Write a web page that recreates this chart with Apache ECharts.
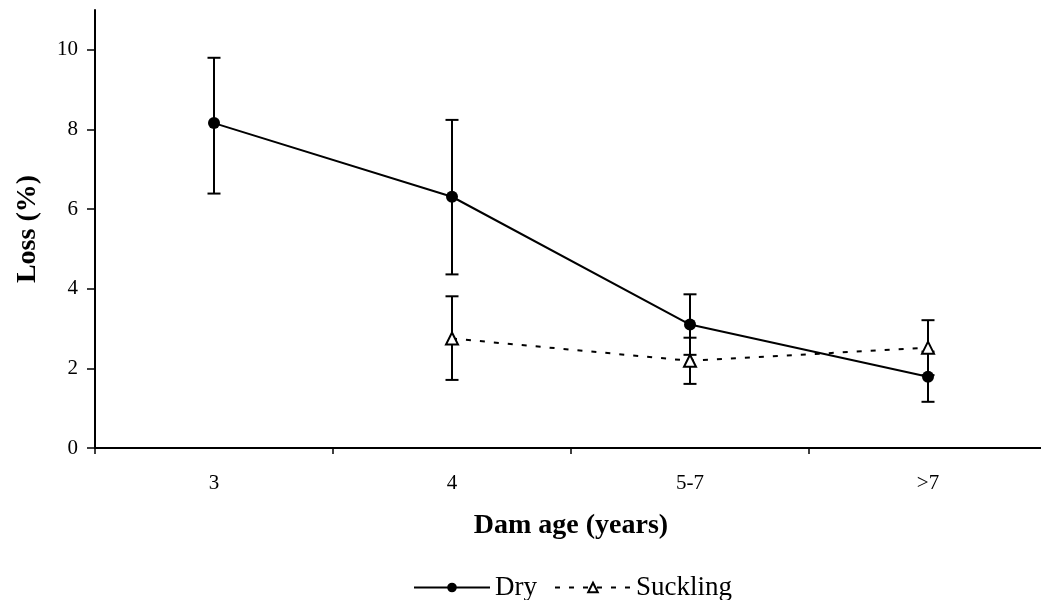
<!DOCTYPE html>
<html>
<head>
<meta charset="utf-8">
<title>Loss by dam age</title>
<script src="https://cdn.jsdelivr.net/npm/echarts@6/dist/echarts.min.js"></script>
<style>
  html, body { margin: 0; padding: 0; background: #fff; overflow: hidden; }
  /* plot runs slightly past the right edge of the window */
  #chart { width: 1047px; height: 600px; }
</style>
</head>
<body>
<div id="chart"></div>
<script>
// Dam age groups
const categories = ['3', '4', '5-7', '>7'];

// Mean loss (%) with lower / upper error limits; null where no value
const dryMean  = [8.16, 6.31, 3.10, 1.79];
const dryLow   = [6.39, 4.36, 2.34, 1.16];
const dryHigh  = [9.80, 8.24, 3.86, 2.42];

const suckMean = [null, 2.75, 2.19, 2.52];
const suckLow  = [null, 1.71, 1.61, 1.83];
const suckHigh = [null, 3.81, 2.77, 3.21];

const yTicks = [0, 2, 4, 6, 8, 10];

const serif = '"Liberation Serif", "DejaVu Serif", serif';

function errorData(low, high) {
  const out = [];
  low.forEach((l, i) => {
    if (l !== null && high[i] !== null) out.push([i, l, high[i]]);
  });
  return out;
}

function renderErrorBar(params, api) {
  const x = api.value(0);
  const lo = api.coord([x, api.value(1)]);
  const hi = api.coord([x, api.value(2)]);
  const half = 6.5;
  const style = { stroke: '#000', lineWidth: 2, fill: null };
  return {
    type: 'group',
    children: [
      { type: 'line', shape: { x1: lo[0], y1: lo[1], x2: hi[0], y2: hi[1] }, style },
      { type: 'line', shape: { x1: hi[0] - half, y1: hi[1], x2: hi[0] + half, y2: hi[1] }, style },
      { type: 'line', shape: { x1: lo[0] - half, y1: lo[1], x2: lo[0] + half, y2: lo[1] }, style }
    ]
  };
}

const chart = echarts.init(document.getElementById('chart'), null, { renderer: 'canvas' });

chart.setOption({
  animation: false,
  backgroundColor: '#fff',
  textStyle: { fontFamily: serif, color: '#000' },
  grid: { left: 95, top: 10, right: 0, height: 438, containLabel: false },
  legend: {
    top: 574,
    left: 413,
    padding: 0,
    itemWidth: 76,
    itemHeight: 12,
    itemGap: 17,
    textStyle: { fontFamily: serif, fontSize: 27, color: '#000' },
    data: ['Dry', 'Suckling']
  },
  xAxis: {
    type: 'category',
    data: categories,
    boundaryGap: true,
    name: 'Dam age (years)',
    nameLocation: 'middle',
    nameGap: 64,
    nameTextStyle: { fontFamily: serif, fontSize: 28, fontWeight: 'bold', color: '#000' },
    axisLine: { lineStyle: { color: '#000', width: 2 } },
    axisTick: { show: true, length: 6, lineStyle: { color: '#000', width: 1.5 } },
    axisLabel: { fontFamily: serif, fontSize: 21, color: '#000', margin: 25 },
    splitLine: { show: false }
  },
  yAxis: {
    type: 'value',
    min: 0,
    max: 11,
    interval: 2,
    name: 'Loss (%)',
    nameLocation: 'middle',
    nameGap: 53,
    nameRotate: 90,
    nameTextStyle: { fontFamily: serif, fontSize: 28, fontWeight: 'bold', color: '#000' },
    axisLine: { show: true, lineStyle: { color: '#000', width: 2 } },
    axisTick: { show: true, length: 8, customValues: yTicks, lineStyle: { color: '#000', width: 1.5 } },
    axisLabel: {
      fontFamily: serif, fontSize: 21, color: '#000', margin: 17,
      customValues: yTicks
    },
    splitLine: { show: false }
  },
  series: [
    {
      name: 'Dry',
      type: 'line',
      data: dryMean,
      symbol: 'circle',
      symbolSize: 12,
      itemStyle: { color: '#000' },
      lineStyle: { color: '#000', width: 2, type: 'solid' },
      z: 4
    },
    {
      name: 'Suckling',
      type: 'line',
      data: suckMean,
      symbol: 'triangle',
      symbolSize: 12,
      connectNulls: false,
      itemStyle: { color: '#fff', borderColor: '#000', borderWidth: 2 },
      lineStyle: { color: '#000', width: 2, type: [5, 9] },
      z: 5
    },
    {
      name: 'DryErr',
      type: 'custom',
      renderItem: renderErrorBar,
      data: errorData(dryLow, dryHigh),
      encode: { x: 0, y: [1, 2] },
      z: 3,
      silent: true
    },
    {
      name: 'SuckErr',
      type: 'custom',
      renderItem: renderErrorBar,
      data: errorData(suckLow, suckHigh),
      encode: { x: 0, y: [1, 2] },
      z: 3,
      silent: true
    }
  ]
});
</script>
</body>
</html>
